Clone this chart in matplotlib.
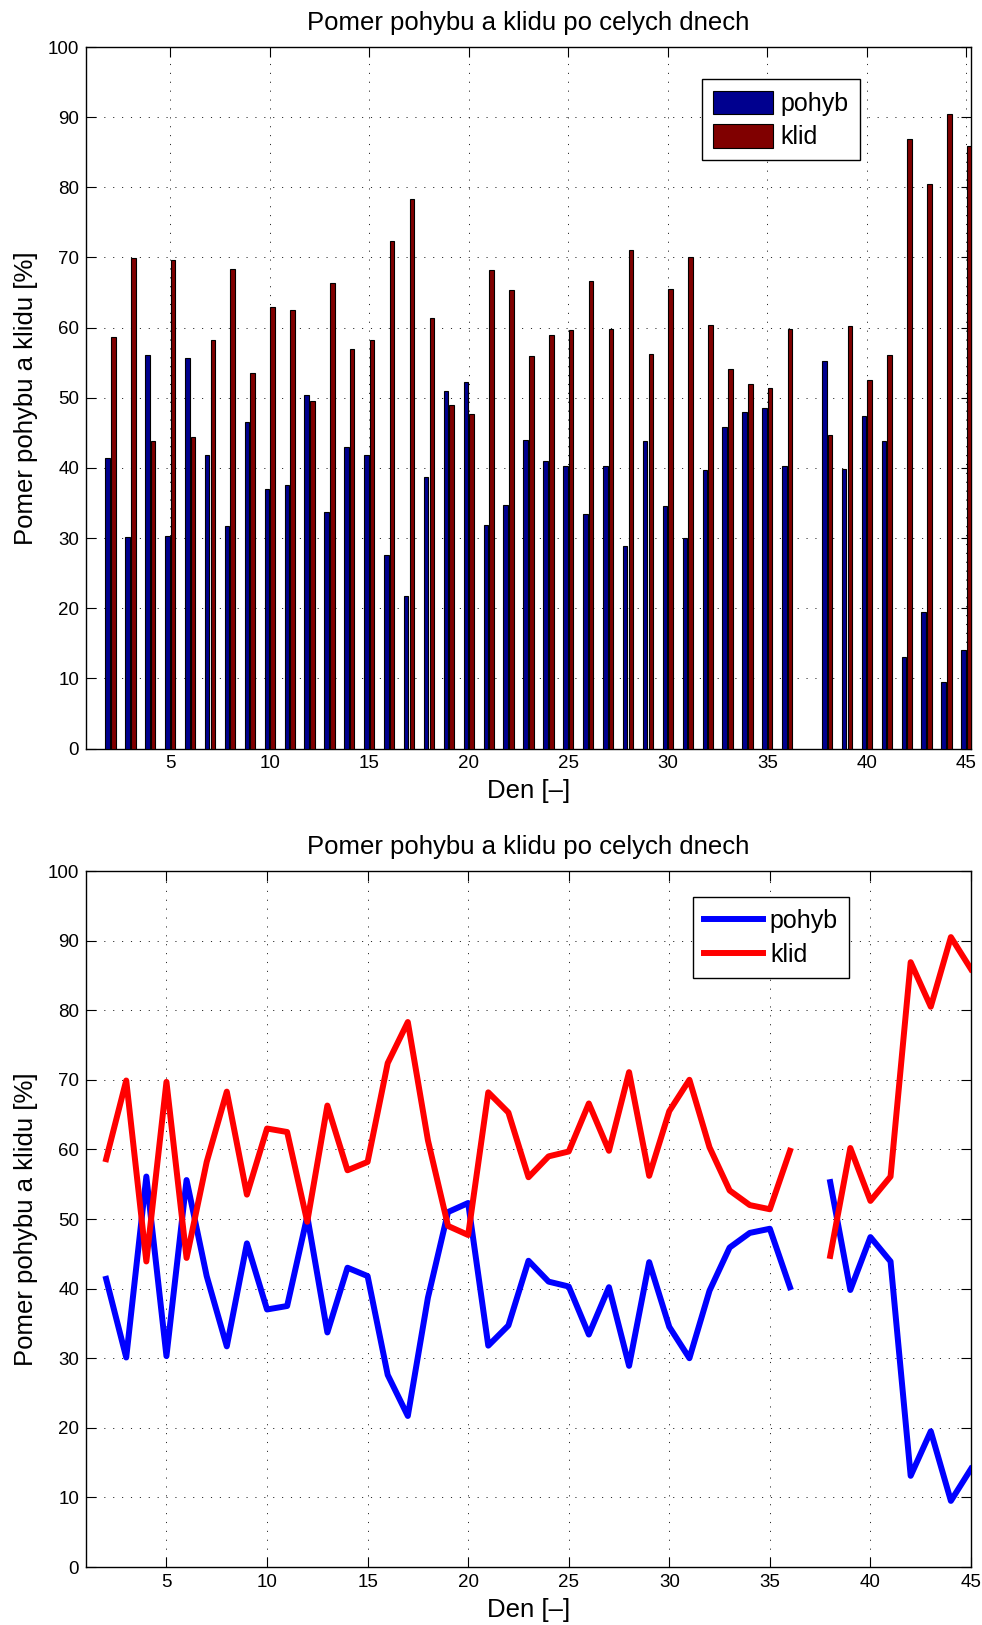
import numpy as np
import matplotlib
matplotlib.use("Agg")
import matplotlib.pyplot as plt

plt.rcParams['font.family'] = ['Liberation Sans', 'DejaVu Sans']
plt.rcParams['lines.scale_dashes'] = False

days = list(range(2, 46))
pohyb = [41.4, 30.1, 56.1, 30.3, 55.6, 41.8, 31.7, 46.5, 37.0, 37.5, 50.4, 33.7, 43.0, 41.8,
         27.6, 21.7, 38.7, 51.0, 52.3, 31.8, 34.7, 44.0, 41.0, 40.3, 33.4, 40.2, 28.9, 43.8, 34.5,
         30.0, 39.7, 45.9, 48.0, 48.6, 40.2, np.nan, 55.3, 39.8, 47.4, 43.9, 13.1, 19.5, 9.5, 14.1]
klid = [58.6, 69.9, 43.9, 69.7, 44.4, 58.2, 68.3, 53.5, 63.0, 62.5, 49.6, 66.3, 57.0, 58.2,
        72.4, 78.3, 61.3, 49.0, 47.7, 68.2, 65.3, 56.0, 59.0, 59.7, 66.6, 59.8, 71.1, 56.2, 65.5,
        70.0, 60.3, 54.1, 52.0, 51.4, 59.8, np.nan, 44.7, 60.2, 52.6, 56.1, 86.9, 80.5, 90.5, 85.9]

title = "Pomer pohybu a klidu po celych dnech"
xlabel = "Den [\u2013]"
ylabel = "Pomer pohybu a klidu [%]"
xticks = [5, 10, 15, 20, 25, 30, 35, 40, 45]
yticks = list(range(0, 101, 10))

W, H = 982, 1625
fig = plt.figure(figsize=(W / 100, H / 100), dpi=100)

def axrect(l, t, r, b):
    return [l / W, 1 - b / H, (r - l) / W, (b - t) / H]

ax1 = fig.add_axes(axrect(86, 47, 971, 748.5))
ax2 = fig.add_axes(axrect(86, 871, 971, 1567))

x = np.array(days, dtype=float)
bw = 0.229
off = 0.143
ax1.bar(x - off, pohyb, width=bw, color=(0, 0, 0.5625), edgecolor='black', linewidth=0.8, label='pohyb', zorder=3)
ax1.bar(x + off, klid, width=bw, color=(0.5, 0, 0), edgecolor='black', linewidth=0.8, label='klid', zorder=3)
ax1.set_xlim(0.77, 45.23)

ax2.plot(x, pohyb, color=(0, 0, 1), lw=4.3, label='pohyb', zorder=3)
ax2.plot(x, klid, color=(1, 0, 0), lw=4.3, label='klid', zorder=3)
ax2.set_xlim(1, 45)

for ax in (ax1, ax2):
    ax.set_ylim(0, 100)
    ax.set_xticks(xticks)
    ax.set_yticks(yticks)
    ax.grid(True, color='0.15', linestyle=(0, (0.8, 5.6)), linewidth=0.7, zorder=1)
    ax.set_axisbelow(True)
    ax.tick_params(direction='in', length=7, width=0.8, top=True, right=True,
                   labelsize=13.5, pad=5, colors='black')
    for s in ax.spines.values():
        s.set_linewidth(1.0)
        s.set_color('black')
    ax.set_title(title, fontsize=18.5, pad=12.5)
    ax.set_xlabel(xlabel, fontsize=18.5, labelpad=5)
    ax.set_ylabel(ylabel, fontsize=18.5, labelpad=7)

leg1 = ax1.legend(loc='upper left', bbox_to_anchor=(0.696, 0.954), fontsize=18,
                  handlelength=2.4, handleheight=1.08, handletextpad=0.28,
                  labelspacing=0.32, borderpad=0.45, borderaxespad=0,
                  fancybox=False, framealpha=1, edgecolor='black')
leg1.get_frame().set_linewidth(1.0)
leg2 = ax2.legend(loc='upper left', bbox_to_anchor=(0.6855, 0.962), fontsize=18,
                  handlelength=2.36, handletextpad=0.28,
                  labelspacing=0.4, borderpad=0.45, borderaxespad=0,
                  fancybox=False, framealpha=1, edgecolor='black')
leg2.get_frame().set_linewidth(1.0)

fig.savefig('out.png', dpi=100)
